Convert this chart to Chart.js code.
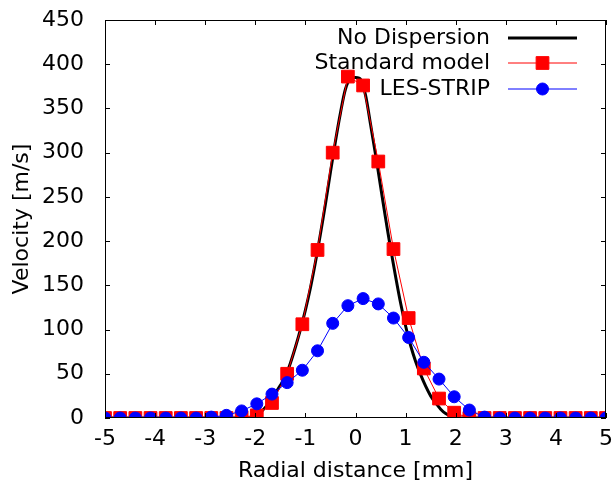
<!DOCTYPE html>
<html>
<head>
<meta charset="utf-8">
<script src="https://cdn.jsdelivr.net/npm/chart.js@4.4.1/dist/chart.umd.min.js"></script>
<style>
	html, body { margin: 0; padding: 0; background: #fff; }
	canvas { display: block; }
</style>
</head>
<body>
<canvas id="chart" width="616" height="484"></canvas>
<script>
// Radial positions of the sampled models (mm)
const xSamples = [
	-5.000, -4.697, -4.394, -4.091, -3.788, -3.485, -3.182, -2.879, -2.576, -2.273,
	-1.970, -1.667, -1.364, -1.061, -0.758, -0.455, -0.152, 0.152, 0.455, 0.758,
	1.061, 1.364, 1.667, 1.970, 2.273, 2.576, 2.879, 3.182, 3.485, 3.788,
	4.091, 4.394, 4.697, 5.000
];
const standardModel = [
	0, 0, 0, 0, 0, 0, 0, 0, 0, 1,
	3, 17, 50, 106, 190, 300, 386, 376, 290, 191,
	113, 56, 22, 6, 0, 0, 0, 0, 0, 0,
	0, 0, 0, 0
];
const lesStrip = [
	0, 0, 0, 0, 0, 0, 0, 1, 3, 8,
	16, 27, 40, 54, 76, 107, 127, 135, 129, 113,
	91, 63, 44, 24, 9, 1, 0, 0, 0, 0,
	0, 0, 0, 0
];

// No Dispersion curve (finer sampling)
const xNoDisp = [
	-5.0, -2.2, -2.1, -2.0, -1.9, -1.8, -1.7, -1.6, -1.5, -1.4, -1.3, -1.2, -1.1,
	-1.0, -0.9, -0.8, -0.7, -0.6, -0.5, -0.4, -0.3, -0.2, -0.1, 0.0,
	0.1, 0.2, 0.3, 0.4, 0.5, 0.6, 0.7, 0.8, 0.9, 1.0,
	1.1, 1.2, 1.3, 1.4, 1.5, 1.6, 1.7, 1.8, 1.9, 2.0, 2.1, 5.0
];
const noDispersion = [
	0, 0, 0, 2, 6, 12, 19, 28, 37, 47, 62, 80, 100,
	122, 147, 176, 208, 242, 278, 313, 345, 372, 384, 385,
	383, 365, 332, 298, 262, 226, 192, 160, 130, 104,
	82, 64, 49, 36, 25, 17, 10, 5, 2, 0, 0, 0
];

const xTicks = [-5, -4, -3, -2, -1, 0, 1, 2, 3, 4, 5];
const yTicks = [0, 50, 100, 150, 200, 250, 300, 350, 400, 450];

const FONT = 'DejaVu Sans';
const FONT_SIZE = 22;

const pairs = (xs, ys) => xs.map((x, i) => ({ x: x, y: ys[i] }));

// inward ticks on all four sides, like the gnuplot frame
const frameTicks = {
	id: 'frameTicks',
	afterDatasetsDraw(chart) {
		const { ctx, chartArea: a, scales } = chart;
		const len = 5;
		ctx.save();
		ctx.strokeStyle = '#000';
		ctx.lineWidth = 1;
		ctx.beginPath();
		xTicks.forEach(v => {
			const px = Math.round(scales.x.getPixelForValue(v)) + 0.5;
			ctx.moveTo(px, a.bottom); ctx.lineTo(px, a.bottom - len);
			ctx.moveTo(px, a.top); ctx.lineTo(px, a.top + len);
		});
		yTicks.forEach(v => {
			const py = Math.round(scales.y.getPixelForValue(v)) + 0.5;
			ctx.moveTo(a.left, py); ctx.lineTo(a.left + len, py);
			ctx.moveTo(a.right, py); ctx.lineTo(a.right - len, py);
		});
		ctx.stroke();
		ctx.strokeRect(a.left + 0.5, a.top + 0.5, a.right - a.left - 1, a.bottom - a.top - 1);
		ctx.restore();
	}
};

// legend: right-aligned text followed by a line sample, top right
const keyLegend = {
	id: 'keyLegend',
	afterDraw(chart) {
		const { ctx } = chart;
		const textRight = 490;
		const x0 = 508, x1 = 577;
		const rows = [38, 63, 89];
		ctx.save();
		ctx.font = FONT_SIZE + 'px "' + FONT + '"';
		ctx.textAlign = 'right';
		ctx.textBaseline = 'middle';
		chart.data.datasets.forEach((ds, i) => {
			const y = rows[i];
			ctx.fillStyle = '#000';
			ctx.fillText(ds.label, textRight, y);
			ctx.strokeStyle = ds.borderColor;
			ctx.lineWidth = ds.borderWidth;
			ctx.beginPath();
			ctx.moveTo(x0, y);
			ctx.lineTo(x1, y);
			ctx.stroke();
			if (ds.pointRadius > 0) {
				ctx.fillStyle = ds.pointBackgroundColor;
				ctx.strokeStyle = ds.pointBorderColor;
				ctx.lineWidth = 1;
				Chart.helpers.drawPoint(ctx, {
					pointStyle: ds.pointStyle,
					radius: ds.pointRadius,
					borderWidth: 1,
					rotation: 0
				}, (x0 + x1) / 2, y);
			}
		});
		ctx.restore();
	}
};

new Chart(document.getElementById('chart'), {
	type: 'line',
	data: {
		datasets: [
			{
				label: 'No Dispersion',
				data: pairs(xNoDisp, noDispersion),
				borderColor: '#000',
				borderWidth: 3,
				pointRadius: 0,
				tension: 0.3,
				order: 3,
			},
			{
				label: 'Standard model',
				data: pairs(xSamples, standardModel),
				borderColor: '#ff0000',
				borderWidth: 1,
				pointStyle: 'rect',
				pointRadius: 9,
				pointBackgroundColor: '#ff0000',
				pointBorderColor: '#ff0000',
				pointBorderWidth: 1,
				order: 2,
			},
			{
				label: 'LES-STRIP',
				data: pairs(xSamples, lesStrip),
				borderColor: '#0000ff',
				borderWidth: 1,
				pointStyle: 'circle',
				pointRadius: 6,
				pointBackgroundColor: '#0000ff',
				pointBorderColor: '#0000ff',
				pointBorderWidth: 1,
				order: 1,
			},
		]
	},
	options: {
		responsive: false,
		animation: false,
		devicePixelRatio: 1,
		layout: { padding: { top: 20, right: 10, left: 0, bottom: 0 } },
		plugins: {
			legend: { display: false },
			tooltip: { enabled: false },
		},
		scales: {
			x: {
				type: 'linear',
				min: -5,
				max: 5,
				afterFit: (s) => {
					s.height = 66;
					s.paddingLeft = 0;
					s.paddingRight = 0;
				},
				afterBuildTicks: (s) => { s.ticks = xTicks.map(v => ({ value: v })); },
				grid: { display: false },
				border: { display: false },
				ticks: {
					color: '#000',
					font: { family: FONT, size: FONT_SIZE },
					padding: 0,
				},
				title: {
					display: true,
					text: 'Radial distance [mm]',
					color: '#000',
					font: { family: FONT, size: FONT_SIZE },
					padding: { top: 2, bottom: 0 },
				},
			},
			y: {
				min: 0,
				max: 450,
				afterFit: (s) => {
					s.width = 105;
					s.paddingTop = 0;
					s.paddingBottom = 0;
				},
				afterBuildTicks: (s) => { s.ticks = yTicks.map(v => ({ value: v })); },
				grid: { display: false },
				border: { display: false },
				ticks: {
					color: '#000',
					font: { family: FONT, size: FONT_SIZE },
					padding: 13,
				},
				title: {
					display: true,
					text: 'Velocity [m/s]',
					color: '#000',
					font: { family: FONT, size: FONT_SIZE },
					padding: { top: 9, bottom: 4 },
				},
			},
		},
	},
	plugins: [frameTicks, keyLegend],
});
</script>
</body>
</html>
